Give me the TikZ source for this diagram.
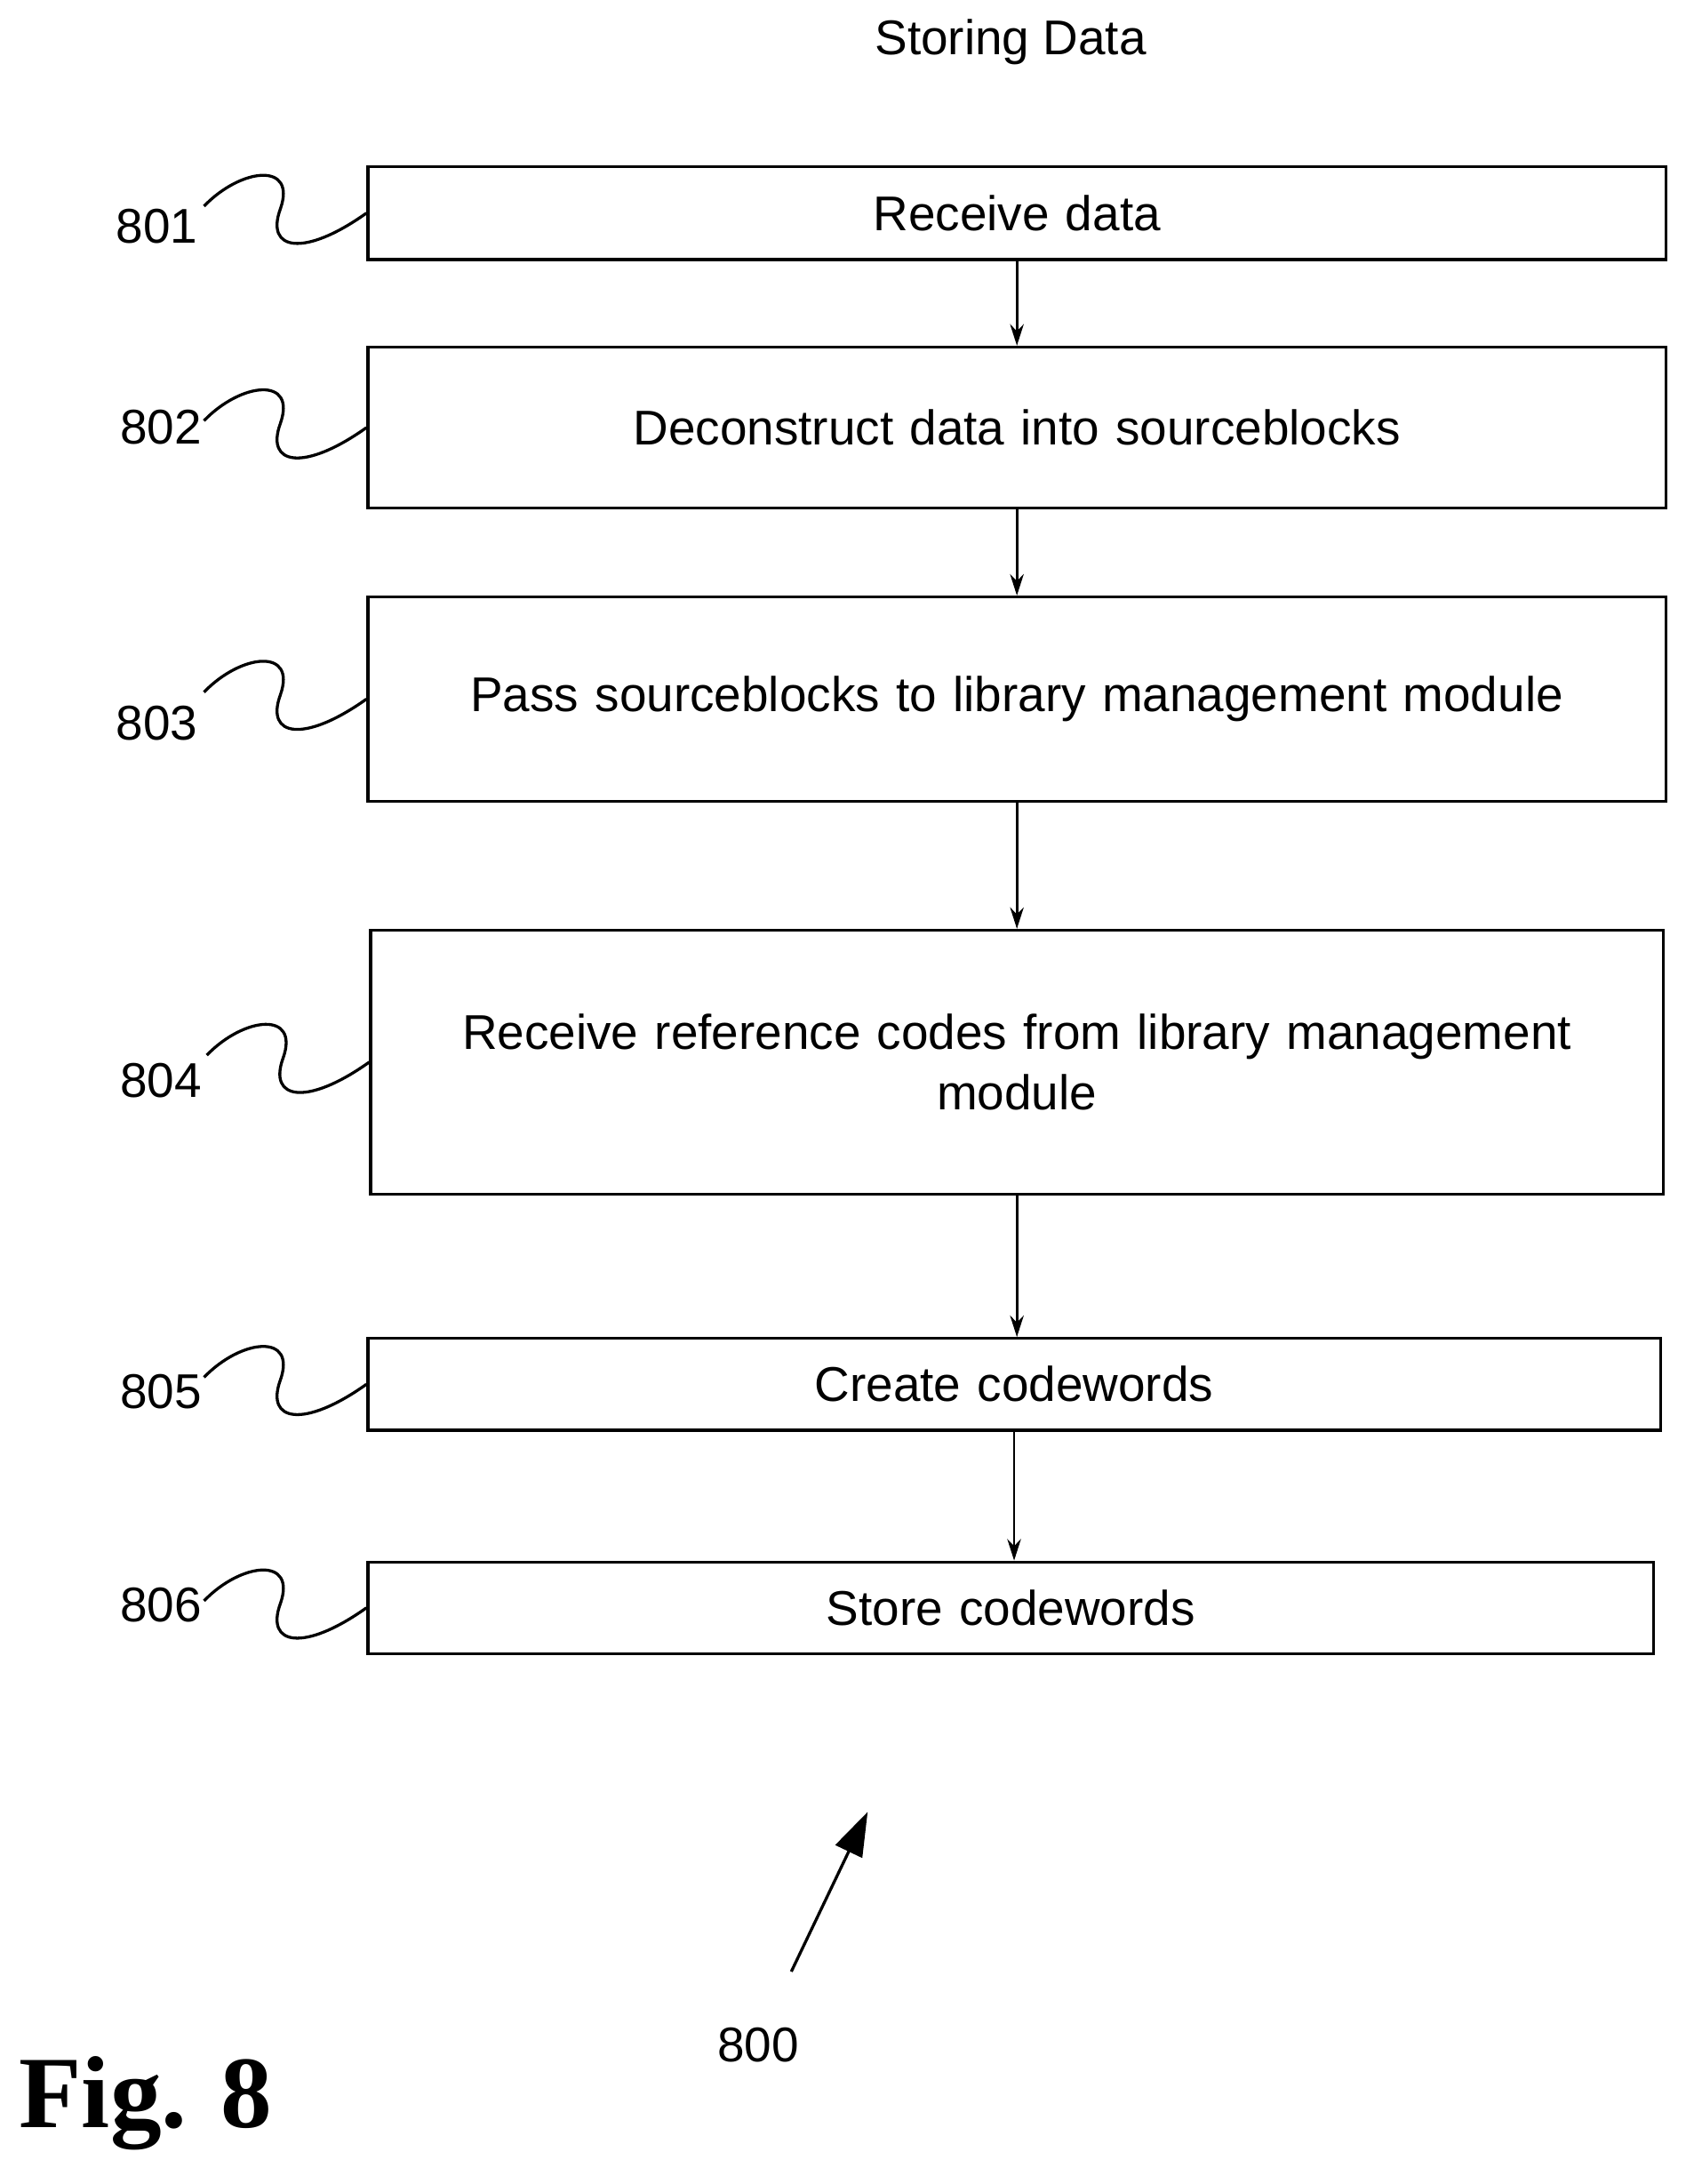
\documentclass[tikz,border=0pt]{standalone}
\usepackage{fontspec}
\setmainfont{Liberation Sans}
\newfontfamily\figfont{Liberation Serif}
\usetikzlibrary{calc,arrows.meta}
\begin{document}
\begin{tikzpicture}[x=0.05cm,y=-0.05cm,
        stage/.style={draw, line width=3pt, inner sep=0, align=center, text width=880*0.05cm,
            font=\fontsize{50}{62}\selectfont},
        flow/.style={line width=2.5pt, -{Stealth[length=22pt,width=14pt]}},
    ]
    \useasboundingbox (0,0) rectangle (1220,1573);
    % reference numbers
    \tikzstyle{num}=[font=\fontsize{50}{60}\selectfont, inner sep=0]
    \tikzstyle{squig}=[line width=3pt]
    \node[font=\fontsize{50}{60}\selectfont] (title) at (728,30) {Storing Data};
    % flow stages
    \node[stage, minimum width=935*0.05cm, minimum height=67*0.05cm] (S801) at (732.5,153.5) {Receive data};
    \node[stage, minimum width=935*0.05cm, minimum height=116*0.05cm] (S802) at (732.5,308) {Deconstruct data into sourceblocks};
    \node[stage, minimum width=935*0.05cm, minimum height=147*0.05cm] (S803) at (732.5,503.5) {Pass sourceblocks to library management module};
    \node[stage, minimum width=931*0.05cm, minimum height=190*0.05cm] (S804) at (732.5,765) {Receive reference codes from library management\\module};
    \node[stage, minimum width=931*0.05cm, minimum height=66*0.05cm] (S805) at (730.5,997) {Create codewords};
    \node[stage, minimum width=926*0.05cm, minimum height=66*0.05cm] (S806) at (728,1158) {Store codewords};
    \draw[flow] (S801.south) -- (S801.south |- S802.north);
    \draw[flow] (S802.south) -- (S802.south |- S803.north);
    \draw[flow] (S803.south) -- (S803.south |- S804.north);
    \draw[flow] (S804.south) -- (S804.south |- S805.north);
    \draw[flow] (S805.south) -- (S805.south |- S806.north);
    % labels with squiggles
    \node[num] (L801) at (113,163) {801};
    \node[num] (L802) at (116,308) {802};
    \node[num] (L803) at (113,521) {803};
    \node[num] (L804) at (116,778) {804};
    \node[num] (L805) at (116,1002) {805};
    \node[num] (L806) at (116,1156) {806};
    \foreach \n in {801,802,803,804,805,806}{
        \coordinate (Q\n) at ($(S\n.west)+(-117,-5)$);
        \draw[squig] (Q\n) .. controls ($(S\n.west)+(-90,-33)$) and ($(S\n.west)+(-50,-37)$) .. ($(S\n.west)+(-62,-3)$)
            .. controls ($(S\n.west)+(-73,27)$) and ($(S\n.west)+(-45,32)$) .. (S\n.west);
    }
    % figure reference
    \node[num] (L800) at (546,1473) {800};
    \coordinate (A800) at (570,1420);
    \coordinate (T800) at (625,1305);
    \draw[line width=3pt, -{Triangle[length=45pt,width=30pt]}] (A800) -- (T800);
    \node[font=\fontsize{105}{110}\selectfont\figfont\bfseries, inner sep=0] (fig) at (105,1515) {Fig. 8};
\end{tikzpicture}
\end{document}
